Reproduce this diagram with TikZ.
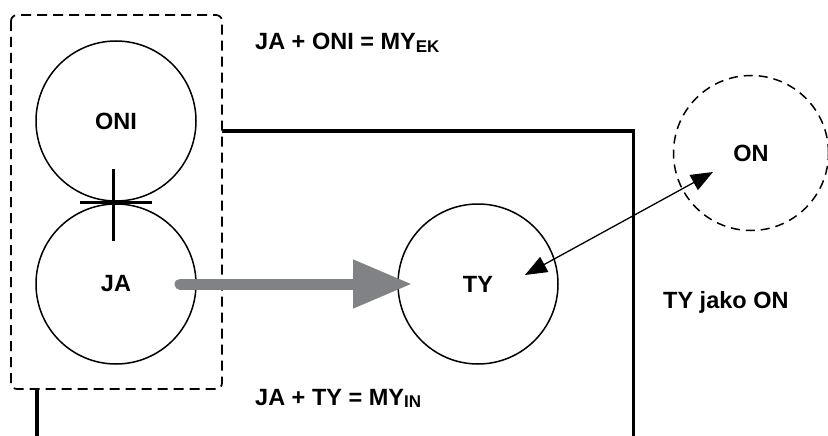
\documentclass[tikz,border=0pt]{standalone}
\usepackage{fontspec}
\setmainfont{Liberation Sans}
\usetikzlibrary{arrows.meta,calc}
\definecolor{arrowgrey}{HTML}{808285}
\newcommand{\lowidx}[1]{{\fontsize{17}{17}\selectfont\raisebox{-2pt}{#1}}}
\begin{document}
\begin{tikzpicture}[x=1pt,y=-1pt,
  lbl/.style={font=\fontsize{23.5}{25}\selectfont\bfseries},
  ring/.style={circle,draw,line width=1.5pt,minimum size=160pt,inner sep=0pt,lbl},
  dashring/.style={circle,draw,line width=1.5pt,minimum size=155pt,inner sep=0pt,lbl,
    dash pattern=on 9pt off 6pt},
  groupbox/.style={draw,fill=white,line width=1.7pt,rounded corners=6pt,
    dash pattern=on 10pt off 6pt},
  frame/.style={line width=3.6pt},
  eq/.style={anchor=base west,inner sep=0pt,lbl},
  bigarrow/.style={arrowgrey,line width=11pt,line cap=round,
    -{Triangle[length=59pt,width=46pt]}},
  thinarrow/.style={line width=1.3pt,
    {Triangle[length=22pt,width=17pt]}-{Triangle[length=22pt,width=17pt]}},
  crossline/.style={line width=3pt}]
\useasboundingbox (0,0) rectangle (828,436);

% outer solid frame, partly covered by the group box
\draw[frame] (37,436) -- (37,131) -- (633.5,131) -- (633.5,436);

% group box holding ONI and JA
\draw[groupbox] (11,15) rectangle (222,389);

\node[ring] (ONI) at (116,121) {ONI};
\node[ring] (JA) at (116,284) {JA};
\node[ring] (TY) at (478,284) {TY};
\node[dashring] (ON) at (751,153) {ON};

% cross at the contact point of ONI and JA
\draw[crossline] ($(ONI.south)+(-36,1)$) -- ($(ONI.south)+(36,1)$);
\draw[crossline] ($(ONI.south)+(-3,-33)$) -- ($(ONI.south)+(-3,39)$);

% arrows
\draw[bigarrow] ($(JA.center)+(64,0)$) -- ($(TY.center)+(-66,0)$);
\draw[thinarrow] ($(TY.center)+(47,-9)$) -- ($(ON.center)+(-38,19)$);

% labels
\node[eq] (eq1) at (255,50) {JA + ONI = MY\lowidx{EK}};
\node[eq] (eq2) at (255,405) {JA + TY = MY\lowidx{IN}};
\node[eq] (rel) at (663,308) {TY jako ON};
\end{tikzpicture}
\end{document}
